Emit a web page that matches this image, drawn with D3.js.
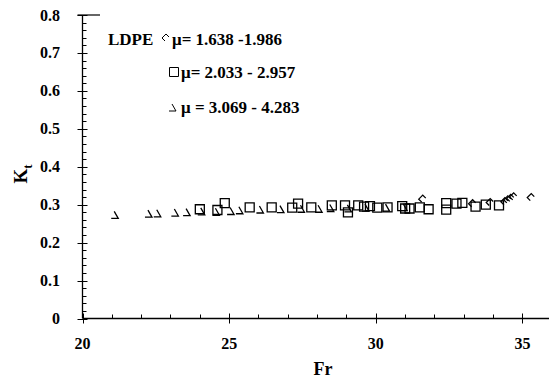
<!DOCTYPE html>
<html>
<head>
<meta charset="utf-8">
<script src="https://cdn.jsdelivr.net/npm/d3@7"></script>
<style>
  body { margin: 0; background: #fff; }
  text { font-family: "Liberation Serif", "Times New Roman", serif; font-weight: bold; }
</style>
</head>
<body>
<svg id="chart" width="549" height="383"></svg>
<script>
// ── Data ──────────────────────────────────────────────────────────────────────

const xTicks = [20, 25, 30, 35];
const yTicks = [0, 0.1, 0.2, 0.3, 0.4, 0.5, 0.6, 0.7, 0.8];

// μ = 1.638 - 1.986 (diamond)
const lowFr = [31.6, 33.3, 33.9, 34.4, 34.5, 34.6, 34.7, 35.3];
const lowKt = [0.312, 0.300, 0.303, 0.305, 0.310, 0.314, 0.318, 0.316];

// μ = 2.033 - 2.957 (square)
const midFr = [24.0, 24.6, 24.85, 25.7, 26.45, 27.15, 27.35, 27.8, 28.5, 28.95, 29.05, 29.4, 29.6, 29.8,
               30.05, 30.4, 30.9, 31.0, 31.15, 31.5, 31.8, 32.4, 32.4, 32.75, 32.95, 33.4, 33.75, 34.2];
const midKt = [0.288, 0.286, 0.304, 0.293, 0.293, 0.292, 0.303, 0.293, 0.298, 0.298, 0.280, 0.298, 0.295, 0.296,
               0.292, 0.293, 0.296, 0.290, 0.290, 0.293, 0.288, 0.304, 0.287, 0.303, 0.305, 0.295, 0.300, 0.298];

// μ = 3.069 - 4.283 (triangle)
const highFr = [21.15, 22.3, 22.6, 23.2, 23.6, 24.1, 24.6, 25.1, 25.4, 26.1, 26.8, 27.5, 28.1, 28.5,
                29.1, 29.7, 30.4, 31.0];
const highKt = [0.272, 0.275, 0.276, 0.278, 0.279, 0.281, 0.280, 0.282, 0.284, 0.286, 0.287, 0.288, 0.288, 0.290,
                0.289, 0.291, 0.291, 0.292];

const legendLabels = ['μ= 1.638 -1.986', 'μ= 2.033 - 2.957', 'μ = 3.069 - 4.283'];

// ── Layout ────────────────────────────────────────────────────────────────────

const svg = d3.select('#chart');
const x = d3.scaleLinear().domain([20, 36]).range([82.5, 551.8]);
const y = d3.scaleLinear().domain([0, 0.8]).range([318.5, 15]);

// open marker shapes, partly drawn like the original export
const markerPath = {
  diamond:  'M3,-2 L0,-5 L-4,-1 L-1,2',
  square:   'M-4.5,-4.5 H4.5 V4.5 H-4.5 Z',
  triangle: 'M-2,-4 L2,3 L-5,3',
};

const g = svg.append('g');

// axes lines
g.append('line').attr('x1', x(20)).attr('x2', 549).attr('y1', y(0)).attr('y2', y(0))
  .attr('stroke', '#000').attr('stroke-width', 1.3);
g.append('line').attr('x1', x(20)).attr('x2', x(20)).attr('y1', y(0)).attr('y2', y(0.8))
  .attr('stroke', '#000').attr('stroke-width', 1.3);
g.append('line').attr('x1', x(20) - 5).attr('x2', 100).attr('y1', y(0.8)).attr('y2', y(0.8))
  .attr('stroke', '#000').attr('stroke-width', 1.2);

// y ticks: minor every 0.02 inside, majors crossing
const yMinor = d3.range(0, 0.8001, 0.02);
g.selectAll('line.ymin').data(yMinor).enter().append('line')
  .attr('x1', x(20)).attr('x2', x(20) + 4)
  .attr('y1', d => Math.round(y(d)) + 0.5).attr('y2', d => Math.round(y(d)) + 0.5)
  .attr('stroke', '#000');
g.selectAll('line.ymaj').data(yTicks).enter().append('line')
  .attr('x1', x(20) - 5).attr('x2', x(20) + 5)
  .attr('y1', d => Math.round(y(d)) + 0.5).attr('y2', d => Math.round(y(d)) + 0.5)
  .attr('stroke', '#000');
g.selectAll('text.ylab').data(yTicks).enter().append('text')
  .attr('x', 60).attr('y', d => y(d) + 5.5)
  .attr('text-anchor', 'end').attr('font-size', 16)
  .text(d => d === 0 ? '0' : d.toFixed(1));

// x ticks: minor every 1 pointing up, majors crossing
const xMinor = d3.range(20, 36.01, 1);
g.selectAll('line.xmin').data(xMinor).enter().append('line')
  .attr('x1', d => Math.round(x(d)) + 0.5).attr('x2', d => Math.round(x(d)) + 0.5)
  .attr('y1', y(0)).attr('y2', y(0) - 4)
  .attr('stroke', '#000');
g.selectAll('line.xmaj').data(xTicks).enter().append('line')
  .attr('x1', d => Math.round(x(d)) + 0.5).attr('x2', d => Math.round(x(d)) + 0.5)
  .attr('y1', y(0) + 5).attr('y2', y(0) - 5)
  .attr('stroke', '#000');
g.selectAll('text.xlab').data(xTicks).enter().append('text')
  .attr('x', d => x(d)).attr('y', 349)
  .attr('text-anchor', 'middle').attr('font-size', 16)
  .text(d => d);

// axis titles
g.append('text').attr('x', 323).attr('y', 375).attr('text-anchor', 'middle')
  .attr('font-size', 18).text('Fr');
const kt = g.append('text').attr('transform', 'translate(27,174) rotate(-90)')
  .attr('text-anchor', 'middle').attr('font-size', 19);
kt.append('tspan').text('K');
kt.append('tspan').attr('dy', 5).attr('font-size', 13).text('t');

// ── Points ────────────────────────────────────────────────────────────────────

function drawSeries(frs, kts, shape) {
  g.selectAll(null).data(d3.zip(frs, kts)).enter().append('path')
    .attr('d', markerPath[shape])
    .attr('transform', d => `translate(${x(d[0])},${y(d[1])})`)
    .attr('fill', 'none').attr('stroke', '#000').attr('stroke-width', 1.3);
}
drawSeries(highFr, highKt, 'triangle');
drawSeries(midFr, midKt, 'square');
drawSeries(lowFr, lowKt, 'diamond');

// ── Legend ────────────────────────────────────────────────────────────────────

g.append('text').attr('x', 108).attr('y', 45).attr('font-size', 17).text('LDPE');
const legRows = [
  { shape: 'diamond',  mx: 166, my: 39, tx: 172, ty: 45 },
  { shape: 'square',   mx: 174, my: 72, tx: 181, ty: 78 },
  { shape: 'triangle', mx: 174, my: 108, tx: 181, ty: 113 },
];
legRows.forEach((r, i) => {
  g.append('path').attr('d', markerPath[r.shape])
    .attr('transform', `translate(${r.mx},${r.my})`)
    .attr('fill', 'none').attr('stroke', '#000').attr('stroke-width', 1);
  g.append('text').attr('x', r.tx).attr('y', r.ty).attr('font-size', 17).text(legendLabels[i]);
});
</script>
</body>
</html>
